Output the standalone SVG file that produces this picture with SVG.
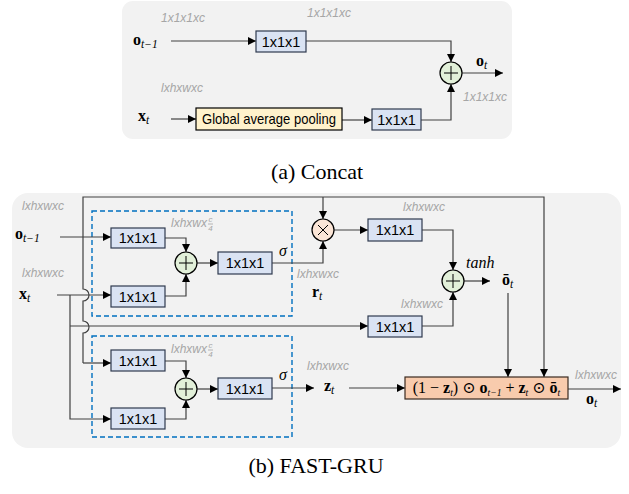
<svg xmlns="http://www.w3.org/2000/svg" width="629" height="494" viewBox="0 0 629 494">
  <defs>
    <marker id="arr" viewBox="0 0 10 10" refX="10" refY="5" markerWidth="9" markerHeight="8" markerUnits="userSpaceOnUse" orient="auto">
      <path d="M0,0 L10,5 L0,10 z" fill="#000"/>
    </marker>
    <style>
      .panel { fill: #f2f2f2; }
      .conv { fill: #dae3f3; stroke: #2f3a4f; stroke-width: 1.2; }
      .pool { fill: #fff2cc; stroke: #000; stroke-width: 1.2; }
      .fuse { fill: #f8cbad; stroke: #3a2a20; stroke-width: 1.2; }
      .add { fill: #e2f0d9; stroke: #000; stroke-width: 1.2; }
      .mul { fill: #fbe5d6; stroke: #000; stroke-width: 1.2; }
      .sym { fill: none; stroke: #000; stroke-width: 1; }
      .wire { fill: none; stroke: #404040; stroke-width: 1.2; }
      .arrow { marker-end: url(#arr); }
      .group { fill: none; stroke: #0070c0; stroke-width: 1.4; stroke-dasharray: 5 3; }
      .lbl { font-family: "Liberation Sans", "Open Sans", sans-serif; font-size: 14.5px; fill: #000; }
      .dim { font-family: "Liberation Sans", "Open Sans", sans-serif; font-size: 12px; font-style: italic; fill: #a6a6a6; }
      .dimf { font-family: "Liberation Sans", sans-serif; font-size: 8px; font-style: italic; fill: #a6a6a6; }
      .math { font-family: "Liberation Serif", "DejaVu Serif", serif; font-size: 16px; fill: #000; }
      .mb { font-weight: bold; }
      .sub { font-size: 11.5px; font-style: italic; font-weight: normal; }
      .fsub { font-size: 9.5px; font-style: italic; font-weight: normal; }
      .it { font-style: italic; }
      .cap { font-family: "Liberation Serif", "Times New Roman", serif; font-size: 22px; fill: #000; }
    </style>
  </defs>

  <!-- ===== (a) Concat ===== -->
  <rect class="panel" x="122" y="1" width="390" height="138" rx="11"/>

  <g id="a-connectors">
    <path class="wire arrow" d="M171,41 H256"/>
    <path class="wire arrow" d="M306,41 H451 V62"/>
    <path class="wire arrow" d="M171,119 H196"/>
    <path class="wire arrow" d="M342,120 H372"/>
    <path class="wire arrow" d="M421,120 H451 V84"/>
    <path class="wire arrow" d="M462,73 H503"/>
  </g>

  <g id="a-conv-top">
    <rect class="conv" x="256" y="31" width="50" height="21"/>
    <text class="lbl" x="281" y="46.5" text-anchor="middle">1x1x1</text>
  </g>
  <g id="a-pool">
    <rect class="pool" x="196" y="108" width="146" height="22"/>
    <text class="lbl" x="269" y="124" text-anchor="middle" font-size="14" textLength="134" lengthAdjust="spacingAndGlyphs">Global average pooling</text>
  </g>
  <g id="a-conv-bottom">
    <rect class="conv" x="372" y="109" width="49" height="21"/>
    <text class="lbl" x="396.5" y="124.5" text-anchor="middle">1x1x1</text>
  </g>
  <g id="a-add">
    <circle class="add" cx="451" cy="73" r="11"/>
    <path class="sym" d="M444,73 H458 M451,66 V80"/>
  </g>

  <g id="a-labels">
    <text class="dim" x="161" y="22">1x1x1xc</text>
    <text class="dim" x="307" y="17">1x1x1xc</text>
    <text class="dim" x="161" y="92">lxhxwxc</text>
    <text class="dim" x="463" y="101">1x1x1xc</text>
    <text class="math" x="133" y="45"><tspan class="mb">o</tspan><tspan class="sub" dy="3">t−1</tspan></text>
    <text class="math" x="138" y="121"><tspan class="mb">x</tspan><tspan class="sub" dy="3">t</tspan></text>
    <text class="math" x="476" y="66"><tspan class="mb">o</tspan><tspan class="sub" dy="3">t</tspan></text>
  </g>

  <!-- ===== (b) FAST-GRU ===== -->
  <rect class="panel" x="12" y="193" width="609" height="255" rx="16"/>

  <g id="b-groups">
    <rect class="group" x="92" y="211" width="200" height="105"/>
    <rect class="group" x="92" y="336" width="200" height="101"/>
  </g>

  <g id="b-connectors">
    <!-- previous output: feeds reset gate, update gate and fusion -->
    <path class="wire arrow" d="M60,237 H111"/>
    <path class="wire arrow" d="M83,363 V333 A6,6 0 0,0 83,321 V301 A6,6 0 0,0 83,289 V197 H544 V377"/>
    <path class="wire arrow" d="M83,363 H111"/>
    <path class="wire arrow" d="M323,197 V219"/>
    <!-- current input -->
    <path class="wire arrow" d="M57,295 H111"/>
    <path class="wire arrow" d="M70,295 V419 H111"/>
    <path class="wire arrow" d="M70,326 H368"/>
    <!-- reset gate -->
    <path class="wire arrow" d="M165,238 H186 V252"/>
    <path class="wire arrow" d="M165,296 H186 V274"/>
    <path class="wire arrow" d="M197,263 H218"/>
    <path class="wire arrow" d="M272,263 H323 V241"/>
    <!-- candidate -->
    <path class="wire arrow" d="M334,230 H368"/>
    <path class="wire arrow" d="M422,230 H453 V270"/>
    <path class="wire arrow" d="M422,326 H453 V292"/>
    <path class="wire arrow" d="M464,281 H490"/>
    <path class="wire arrow" d="M508,293 V377"/>
    <!-- update gate -->
    <path class="wire arrow" d="M165,361 H186 V378"/>
    <path class="wire arrow" d="M165,419 H186 V400"/>
    <path class="wire arrow" d="M197,389 H218"/>
    <path class="wire arrow" d="M272,388 H314"/>
    <path class="wire arrow" d="M349,388 H405"/>
    <path class="wire arrow" d="M568,389 H621"/>
  </g>

  <g id="b-r-conv-o">
    <rect class="conv" x="111" y="228" width="54" height="20"/>
    <text class="lbl" x="138" y="243" text-anchor="middle">1x1x1</text>
  </g>
  <g id="b-r-conv-x">
    <rect class="conv" x="111" y="286" width="54" height="21"/>
    <text class="lbl" x="138" y="301.5" text-anchor="middle">1x1x1</text>
  </g>
  <g id="b-r-add">
    <circle class="add" cx="186" cy="263" r="11"/>
    <path class="sym" d="M179,263 H193 M186,256 V270"/>
  </g>
  <g id="b-r-conv">
    <rect class="conv" x="218" y="252" width="54" height="22"/>
    <text class="lbl" x="245" y="268" text-anchor="middle">1x1x1</text>
  </g>
  <g id="b-mul">
    <circle class="mul" cx="323" cy="230" r="11"/>
    <path class="sym" d="M318,225 L328,235 M328,225 L318,235"/>
  </g>
  <g id="b-c-conv-r">
    <rect class="conv" x="368" y="219" width="54" height="22"/>
    <text class="lbl" x="395" y="235" text-anchor="middle">1x1x1</text>
  </g>
  <g id="b-c-add">
    <circle class="add" cx="453" cy="281" r="11"/>
    <path class="sym" d="M446,281 H460 M453,274 V288"/>
  </g>
  <g id="b-c-conv-x">
    <rect class="conv" x="368" y="316" width="54" height="21"/>
    <text class="lbl" x="395" y="331.5" text-anchor="middle">1x1x1</text>
  </g>
  <g id="b-z-conv-o">
    <rect class="conv" x="111" y="350" width="54" height="21"/>
    <text class="lbl" x="138" y="365.5" text-anchor="middle">1x1x1</text>
  </g>
  <g id="b-z-conv-x">
    <rect class="conv" x="111" y="408" width="54" height="21"/>
    <text class="lbl" x="138" y="423.5" text-anchor="middle">1x1x1</text>
  </g>
  <g id="b-z-add">
    <circle class="add" cx="186" cy="389" r="11"/>
    <path class="sym" d="M179,389 H193 M186,382 V396"/>
  </g>
  <g id="b-z-conv">
    <rect class="conv" x="218" y="378" width="54" height="21"/>
    <text class="lbl" x="245" y="393.5" text-anchor="middle">1x1x1</text>
  </g>
  <g id="b-fuse">
    <rect class="fuse" x="405" y="377" width="163" height="22"/>
    <text class="math" x="486.5" y="392.5" text-anchor="middle" font-size="13.5">(1 − <tspan class="mb">z</tspan><tspan class="fsub" dy="3">t</tspan><tspan dy="-3">) ⊙ </tspan><tspan class="mb">o</tspan><tspan class="fsub" dy="3">t−1</tspan><tspan dy="-3"> + </tspan><tspan class="mb">z</tspan><tspan class="fsub" dy="3">t</tspan><tspan dy="-3"> ⊙ </tspan><tspan class="mb">ō</tspan><tspan class="fsub" dy="3">t</tspan></text>
  </g>

  <g id="b-labels">
    <text class="dim" x="22" y="210">lxhxwxc</text>
    <text class="math" x="15" y="239"><tspan class="mb">o</tspan><tspan class="sub" dy="3">t−1</tspan></text>
    <text class="dim" x="22" y="277">lxhxwxc</text>
    <text class="math" x="19" y="299"><tspan class="mb">x</tspan><tspan class="sub" dy="3">t</tspan></text>

    <text class="dim" x="171" y="227">lxhxwx</text>
    <text class="dimf" x="210.5" y="222" text-anchor="middle">c</text>
    <path d="M208,224 H213" stroke="#a6a6a6" stroke-width="0.8"/>
    <text class="dimf" x="210.5" y="231" text-anchor="middle">4</text>
    <text class="math it" x="279" y="256" font-size="17">σ</text>

    <text class="dim" x="171" y="353">lxhxwx</text>
    <text class="dimf" x="210.5" y="348" text-anchor="middle">c</text>
    <path d="M208,350 H213" stroke="#a6a6a6" stroke-width="0.8"/>
    <text class="dimf" x="210.5" y="357" text-anchor="middle">4</text>
    <text class="math it" x="279" y="380" font-size="17">σ</text>

    <text class="dim" x="297" y="278">lxhxwxc</text>
    <text class="math" x="312" y="297"><tspan class="mb">r</tspan><tspan class="sub" dy="3">t</tspan></text>
    <text class="dim" x="403" y="211">lxhxwxc</text>
    <text class="math it" x="466" y="268" font-size="14">tanh</text>
    <text class="math" x="502" y="285"><tspan class="mb">ō</tspan><tspan class="sub" dy="3">t</tspan></text>
    <text class="dim" x="401" y="308">lxhxwxc</text>
    <text class="dim" x="307" y="370">lxhxwxc</text>
    <text class="math" x="324" y="391"><tspan class="mb">z</tspan><tspan class="sub" dy="3">t</tspan></text>
    <text class="dim" x="575" y="379">lxhxwxc</text>
    <text class="math" x="586" y="404"><tspan class="mb">o</tspan><tspan class="sub" dy="3">t</tspan></text>
  </g>

  <text class="cap" x="317" y="179" text-anchor="middle">(a) Concat</text>
  <text class="cap" x="316" y="473" text-anchor="middle">(b) FAST-GRU</text>
</svg>
